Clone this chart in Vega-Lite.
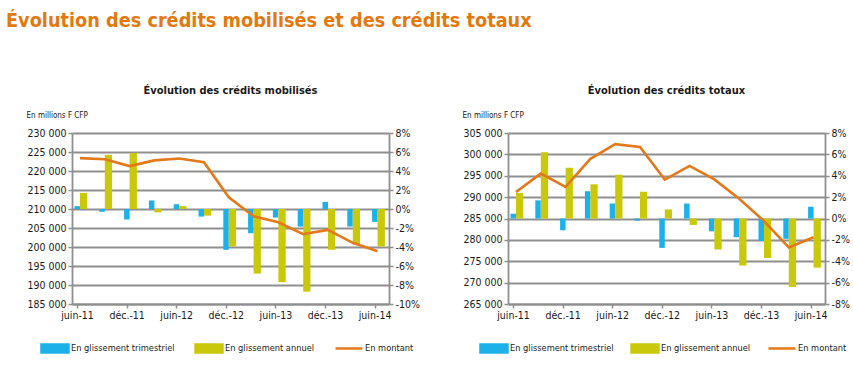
{
  "$schema": "https://vega.github.io/schema/vega-lite/v6.json",
  "background": "white",
  "padding": {"left": 6, "top": 11, "right": 0, "bottom": 0},
  "title": {
    "text": "Évolution des crédits mobilisés et des crédits totaux",
    "anchor": "start",
    "frame": "bounds",
    "font": "DejaVu Sans Condensed, DejaVu Sans",
    "fontSize": 19.7,
    "fontWeight": "bold",
    "color": "#E2790F",
    "dx": -20,
    "offset": 54
  },
  "datasets": {
    "mob": [
      {"q": 0, "trimestriel": 0.3, "annuel": 1.7, "montant": 223400},
      {"q": 1, "trimestriel": -0.3, "annuel": 5.7, "montant": 223100},
      {"q": 2, "trimestriel": -1.1, "annuel": 5.9, "montant": 221300},
      {"q": 3, "trimestriel": 0.9, "annuel": -0.35, "montant": 222800},
      {"q": 4, "trimestriel": 0.5, "annuel": 0.3, "montant": 223300},
      {"q": 5, "trimestriel": -0.8, "annuel": -0.7, "montant": 222300},
      {"q": 6, "trimestriel": -4.3, "annuel": -3.95, "montant": 213100},
      {"q": 7, "trimestriel": -2.55, "annuel": -6.8, "montant": 208100},
      {"q": 8, "trimestriel": -0.9, "annuel": -7.7, "montant": 206500},
      {"q": 9, "trimestriel": -1.85, "annuel": -8.7, "montant": 203400},
      {"q": 10, "trimestriel": 0.75, "annuel": -4.3, "montant": 204500},
      {"q": 11, "trimestriel": -1.85, "annuel": -3.75, "montant": 201100},
      {"q": 12, "trimestriel": -1.35, "annuel": -3.95, "montant": 198900}
    ],
    "tot": [
      {"q": 0, "trimestriel": 0.45, "annuel": 2.4, "montant": 291200},
      {"q": 1, "trimestriel": 1.7, "annuel": 6.2, "montant": 295500},
      {"q": 2, "trimestriel": -1.1, "annuel": 4.75, "montant": 292400},
      {"q": 3, "trimestriel": 2.55, "annuel": 3.2, "montant": 298950},
      {"q": 4, "trimestriel": 1.4, "annuel": 4.1, "montant": 302400},
      {"q": 5, "trimestriel": -0.2, "annuel": 2.5, "montant": 301750},
      {"q": 6, "trimestriel": -2.75, "annuel": 0.85, "montant": 294100},
      {"q": 7, "trimestriel": 1.4, "annuel": -0.6, "montant": 297300},
      {"q": 8, "trimestriel": -1.2, "annuel": -2.9, "montant": 294150},
      {"q": 9, "trimestriel": -1.75, "annuel": -4.4, "montant": 289600},
      {"q": 10, "trimestriel": -2.1, "annuel": -3.7, "montant": 284400},
      {"q": 11, "trimestriel": -1.9, "annuel": -6.4, "montant": 278250},
      {"q": 12, "trimestriel": 1.1, "annuel": -4.6, "montant": 280600}
    ]
  },
  "spacing": 42,
  "hconcat": [
    {
      "title": {"text": "Évolution des crédits mobilisés"},
      "width": 317,
      "height": 171,
      "data": {"name": "mob"},
      "layer": [
        {
          "mark": {"type": "bar", "width": 5.5, "xOffset": 0.25, "clip": true},
          "encoding": {
            "x": {"field": "q", "type": "quantitative", "scale": {"domain": [0, 12.38], "nice": false, "zero": false},
                  "axis": {"values": [0, 2, 4, 6, 8, 10, 12], "labelExpr": "['juin-11','déc.-11','juin-12','déc.-12','juin-13','déc.-13','juin-14'][datum.value/2]", "title": null, "grid": false}},
            "y": {"field": "trimestriel", "type": "quantitative", "scale": {"domain": [-10, 8], "nice": false},
                  "axis": {"orient": "right", "values": [-10, -8, -6, -4, -2, 0, 2, 4, 6, 8], "labelExpr": "datum.value + '%'", "title": null, "grid": false}},
            "color": {"datum": "En glissement trimestriel",
                      "scale": {"domain": ["En glissement trimestriel", "En glissement annuel", "En montant"], "range": ["#1DB1EA", "#C9C80A", "#E2791B"]},
                      "legend": {"orient": "none", "legendX": -32, "legendY": 200, "direction": "horizontal", "title": null,
                                 "symbolSize": 729, "symbolType": "M-1,-0.3H1V0.3H-1Z", "labelOffset": 1, "columnPadding": 15, "padding": 0,
                                 "encode": {"symbols": {"update": {
                                   "shape": {"signal": "datum.label === 'En montant' ? 'M-1,-0.3M-1,0L1,0M1,0.3' : 'M-1,-0.3H1V0.3H-1Z'"},
                                   "fill": {"signal": "datum.label === 'En montant' ? 'transparent' : (datum.label === 'En glissement annuel' ? '#C9C80A' : '#1DB1EA')"},
                                   "stroke": {"signal": "datum.label === 'En montant' ? '#E2791B' : 'transparent'"},
                                   "strokeWidth": {"value": 2.5},
                                   "opacity": {"value": 1}}}}}}
          }
        },
        {
          "mark": {"type": "bar", "width": 7.3, "xOffset": 6.65, "clip": true},
          "encoding": {
            "x": {"field": "q", "type": "quantitative", "scale": {"domain": [0, 12.38], "nice": false, "zero": false}},
            "y": {"field": "annuel", "type": "quantitative", "scale": {"domain": [-10, 8], "nice": false}, "axis": null},
            "color": {"datum": "En glissement annuel"}
          }
        },
        {
          "mark": {"type": "line", "xOffset": 3, "strokeWidth": 2.6, "clip": true},
          "encoding": {
            "x": {"field": "q", "type": "quantitative", "scale": {"domain": [0, 12.38], "nice": false, "zero": false}},
            "y": {"field": "montant", "type": "quantitative", "scale": {"domain": [185000, 230000], "nice": false, "zero": false},
                  "axis": {"orient": "left", "values": [185000, 190000, 195000, 200000, 205000, 210000, 215000, 220000, 225000, 230000],
                           "labelExpr": "format(datum.value/1000, 'd') + ' 000'", "grid": true,
                           "title": "En millions F CFP", "titleAngle": 0, "titleAlign": "left", "titleBaseline": "alphabetic", "titleX": -46, "titleY": -16}},
            "color": {"datum": "En montant"}
          }
        }
      ],
      "resolve": {"scale": {"y": "independent"}, "axis": {"y": "independent"}}
    },
    {
      "title": {"text": "Évolution des crédits totaux"},
      "width": 317,
      "height": 171,
      "data": {"name": "tot"},
      "layer": [
        {
          "mark": {"type": "bar", "width": 5.5, "xOffset": 0.25, "clip": true},
          "encoding": {
            "x": {"field": "q", "type": "quantitative", "scale": {"domain": [0, 12.38], "nice": false, "zero": false},
                  "axis": {"values": [0, 2, 4, 6, 8, 10, 12], "labelExpr": "['juin-11','déc.-11','juin-12','déc.-12','juin-13','déc.-13','juin-14'][datum.value/2]", "title": null, "grid": false}},
            "y": {"field": "trimestriel", "type": "quantitative", "scale": {"domain": [-8, 8], "nice": false},
                  "axis": {"orient": "right", "values": [-8, -6, -4, -2, 0, 2, 4, 6, 8], "labelExpr": "datum.value + '%'", "title": null, "grid": false}},
            "color": {"datum": "En glissement trimestriel",
                      "scale": {"domain": ["En glissement trimestriel", "En glissement annuel", "En montant"], "range": ["#1DB1EA", "#C9C80A", "#E2791B"]},
                      "legend": {"orient": "none", "legendX": -29, "legendY": 200, "direction": "horizontal", "title": null,
                                 "symbolSize": 729, "symbolType": "M-1,-0.3H1V0.3H-1Z", "labelOffset": 1, "columnPadding": 12, "padding": 0,
                                 "encode": {"symbols": {"update": {
                                   "shape": {"signal": "datum.label === 'En montant' ? 'M-1,-0.3M-1,0L1,0M1,0.3' : 'M-1,-0.3H1V0.3H-1Z'"},
                                   "fill": {"signal": "datum.label === 'En montant' ? 'transparent' : (datum.label === 'En glissement annuel' ? '#C9C80A' : '#1DB1EA')"},
                                   "stroke": {"signal": "datum.label === 'En montant' ? '#E2791B' : 'transparent'"},
                                   "strokeWidth": {"value": 2.5},
                                   "opacity": {"value": 1}}}}}}
          }
        },
        {
          "mark": {"type": "bar", "width": 7.3, "xOffset": 6.65, "clip": true},
          "encoding": {
            "x": {"field": "q", "type": "quantitative", "scale": {"domain": [0, 12.38], "nice": false, "zero": false}},
            "y": {"field": "annuel", "type": "quantitative", "scale": {"domain": [-8, 8], "nice": false}, "axis": null},
            "color": {"datum": "En glissement annuel"}
          }
        },
        {
          "mark": {"type": "line", "xOffset": 3, "strokeWidth": 2.6, "clip": true},
          "encoding": {
            "x": {"field": "q", "type": "quantitative", "scale": {"domain": [0, 12.38], "nice": false, "zero": false}},
            "y": {"field": "montant", "type": "quantitative", "scale": {"domain": [265000, 305000], "nice": false, "zero": false},
                  "axis": {"orient": "left", "values": [265000, 270000, 275000, 280000, 285000, 290000, 295000, 300000, 305000],
                           "labelExpr": "format(datum.value/1000, 'd') + ' 000'", "grid": true,
                           "title": "En millions F CFP", "titleAngle": 0, "titleAlign": "left", "titleBaseline": "alphabetic", "titleX": -46, "titleY": -16}},
            "color": {"datum": "En montant"}
          }
        }
      ],
      "resolve": {"scale": {"y": "independent"}, "axis": {"y": "independent"}}
    }
  ],
  "resolve": {"scale": {"color": "independent"}, "legend": {"color": "independent"}},
  "config": {
    "view": {"stroke": null},
    "font": "DejaVu Sans Condensed, DejaVu Sans",
    "title": {"fontSize": 11, "fontWeight": "bold", "color": "#1a1a1a", "offset": 15, "anchor": "middle"},
    "axis": {
      "labelFont": "DejaVu Sans Condensed, DejaVu Sans",
      "labelFontSize": 10.5,
      "labelColor": "#1a1a1a",
      "labelPadding": 2,
      "tickSize": 4,
      "tickColor": "#8f8f8f",
      "tickWidth": 1.5,
      "domainColor": "#8f8f8f",
      "domainWidth": 1.8,
      "gridColor": "#8f8f8f",
      "gridWidth": 1.8,
      "titleFont": "DejaVu Sans Condensed, Liberation Sans",
      "titleFontSize": 8,
      "titleFontWeight": "normal",
      "titleColor": "#1a1a1a"
    },
    "axisX": {"labelFlush": false, "labelOverlap": false},
    "axisY": {"labelOverlap": false},
    "legend": {
      "labelFont": "DejaVu Sans Condensed, Liberation Sans",
      "labelFontSize": 9.2,
      "labelColor": "#1a1a1a"
    }
  }
}
